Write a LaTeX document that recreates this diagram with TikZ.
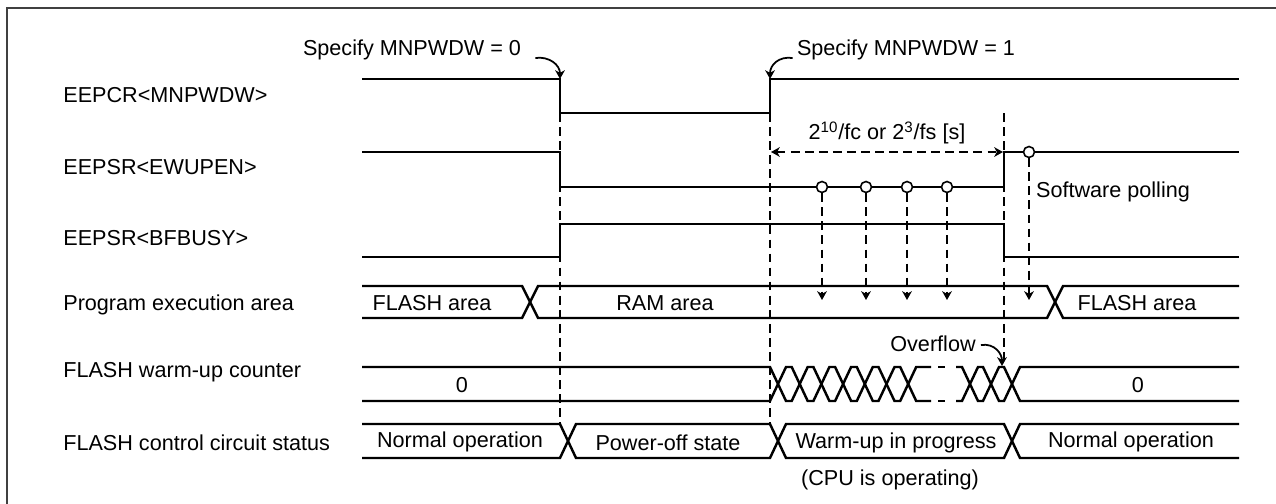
\documentclass[tikz,border=0pt]{standalone}
\usepackage{fontspec}
\setmainfont{Liberation Sans}
\usetikzlibrary{arrows.meta,positioning}

\begin{document}
\begin{tikzpicture}[
  x=0.02cm, y=-0.02cm,
  sig/.style={line width=1.4pt, line join=miter},
  guide/.style={line width=0.8pt, dash pattern=on 5pt off 3pt},
  tip/.style={-{Stealth[length=5pt, width=5.5pt, inset=1.5pt]}},
  dim/.style={guide, {Stealth[length=5pt, width=5.5pt, inset=1.5pt]}-{Stealth[length=5pt, width=5.5pt, inset=1.5pt]}},
  poll/.style={guide, tip},
  pointer/.style={line width=1pt, tip},
  probe/.style={circle, draw, line width=0.9pt, fill=white, minimum size=0.22cm, inner sep=0pt},
  lbl/.style={font=\fontsize{12.3}{14}\selectfont, inner sep=0pt},
  frame/.style={line width=0.8pt, black!75},
]
  \useasboundingbox (0,0) rectangle (1276,504);
  \draw[frame] (1276,8) -- (7,8) -- (7,504);

  \node[lbl, anchor=west] (lMNPWDW) at (63,95) {EEPCR<MNPWDW>};
  \node[lbl, anchor=west] (lEWUPEN) at (63,167) {EEPSR<EWUPEN>};
  \node[lbl, anchor=west] (lBFBUSY) at (63,238) {EEPSR<BFBUSY>};
  \node[lbl, anchor=west] (lArea) at (63,305) {Program execution area};
  \node[lbl, anchor=west] (lCounter) at (63,372) {FLASH warm-up counter};
  \node[lbl, anchor=west] (lStatus) at (63,443) {FLASH control circuit status};

  \draw[guide] (560,113) -- (560,424);
  \draw[guide] (770,113) -- (770,424);
  \draw[guide] (1004,113) -- (1004,367);

  \draw[sig] (362,79) -- (560,79) -- (560,113) -- (770,113) -- (770,79) -- (1239,79);
  \draw[sig] (362,152) -- (560,152) -- (560,187) -- (1004,187) -- (1004,152) -- (1239,152);
  \draw[sig] (362,257) -- (560,257) -- (560,224) -- (1004,224) -- (1004,257) -- (1239,257);

  \draw[sig] (362,286) -- (522,286) -- (538,318) -- (1047,318) -- (1063,286) -- (1239,286);
  \draw[sig] (362,318) -- (522,318) -- (538,286) -- (1047,286) -- (1063,318) -- (1239,318);

  \draw[sig] (362,367) -- (770,367) -- (778,384) -- (770,401) -- (362,401);
  \foreach \i in {0,...,5}
    \draw[sig] ({778+21.7*\i},384) -- ++(8,-17) -- ++(5.7,0) -- ++(8,17) -- ++(-8,17) -- ++(-5.7,0) -- cycle;
  \draw[sig] (931,367) -- (916.2,367) -- (908.2,384) -- (916.2,401) -- (931,401);
  \draw[sig] (938,367) -- (945,367) (938,401) -- (945,401);
  \draw[sig] (956,367) -- (962,367) -- (970,384) -- (962,401) -- (956,401);
  \foreach \i in {0,1}
    \draw[sig] ({970+21*\i},384) -- ++(8,-17) -- ++(5,0) -- ++(8,17) -- ++(-8,17) -- ++(-5,0) -- cycle;
  \draw[sig] (1239,367) -- (1020,367) -- (1012,384) -- (1020,401) -- (1239,401);

  \draw[sig] (362,424) -- (560,424) -- (576,458) -- (770,458) -- (786,424) -- (1004,424) -- (1020,458) -- (1239,458);
  \draw[sig] (362,458) -- (560,458) -- (576,424) -- (770,424) -- (786,458) -- (1004,458) -- (1020,424) -- (1239,424);

  \node[lbl] (areaF1) at (432,303) {FLASH area};
  \node[lbl] (areaR) at (665,303) {RAM area};
  \node[lbl] (areaF2) at (1137,303) {FLASH area};
  \node[lbl] (cnt1) at (462,385) {0};
  \node[lbl] (cnt2) at (1138,385) {0};
  \node[lbl] (st1) at (460,442) {Normal operation};
  \node[lbl] (st2) at (668,443) {Power-off state};
  \node[lbl] (st3) at (896,443) {Warm-up in progress};
  \node[lbl] (st4) at (1131,442) {Normal operation};
  \node[lbl] (cpu) at (890,480) {(CPU is operating)};

  \node[lbl] (spec0) at (412,50) {Specify MNPWDW = 0};
  \node[lbl] (spec1) at (906,50) {Specify MNPWDW = 1};
  \node[lbl] (period) at (887,133) {2\textsuperscript{10}/fc or 2\textsuperscript{3}/fs [s]};
  \node[lbl] (swpoll) at (1113,192) {Software polling};
  \node[lbl] (over) at (933,344) {Overflow};

  \coordinate (e0) at (560,79);
  \coordinate (e1) at (770,79);
  \coordinate (ovf) at (1002,366);
  \coordinate (d0) at (771,152);
  \coordinate (d1) at (1003,152);

  \draw[pointer] ([shift={(14,8)}]spec0.east) .. controls +(14,-2) and +(0,-14) .. (e0);
  \draw[pointer] ([shift={(-4,8)}]spec1.west) .. controls +(-14,-2) and +(0,-14) .. (e1);
  \draw[pointer] ([shift={(5,1)}]over.east) .. controls +(14,-2) and +(0,-12) .. (ovf);
  \draw[dim] (d0) -- (d1);

  \foreach \n/\x in {1/822,2/866,3/907,4/947} {
    \node[probe] (p\n) at (\x,187) {};
    \coordinate (q\n) at (\x,300);
    \draw[poll] (p\n) -- (q\n);
  }
  \node[probe] (p5) at (1029,152) {};
  \coordinate (q5) at (1029,300);
  \draw[poll] (p5) -- (q5);
\end{tikzpicture}
\end{document}
